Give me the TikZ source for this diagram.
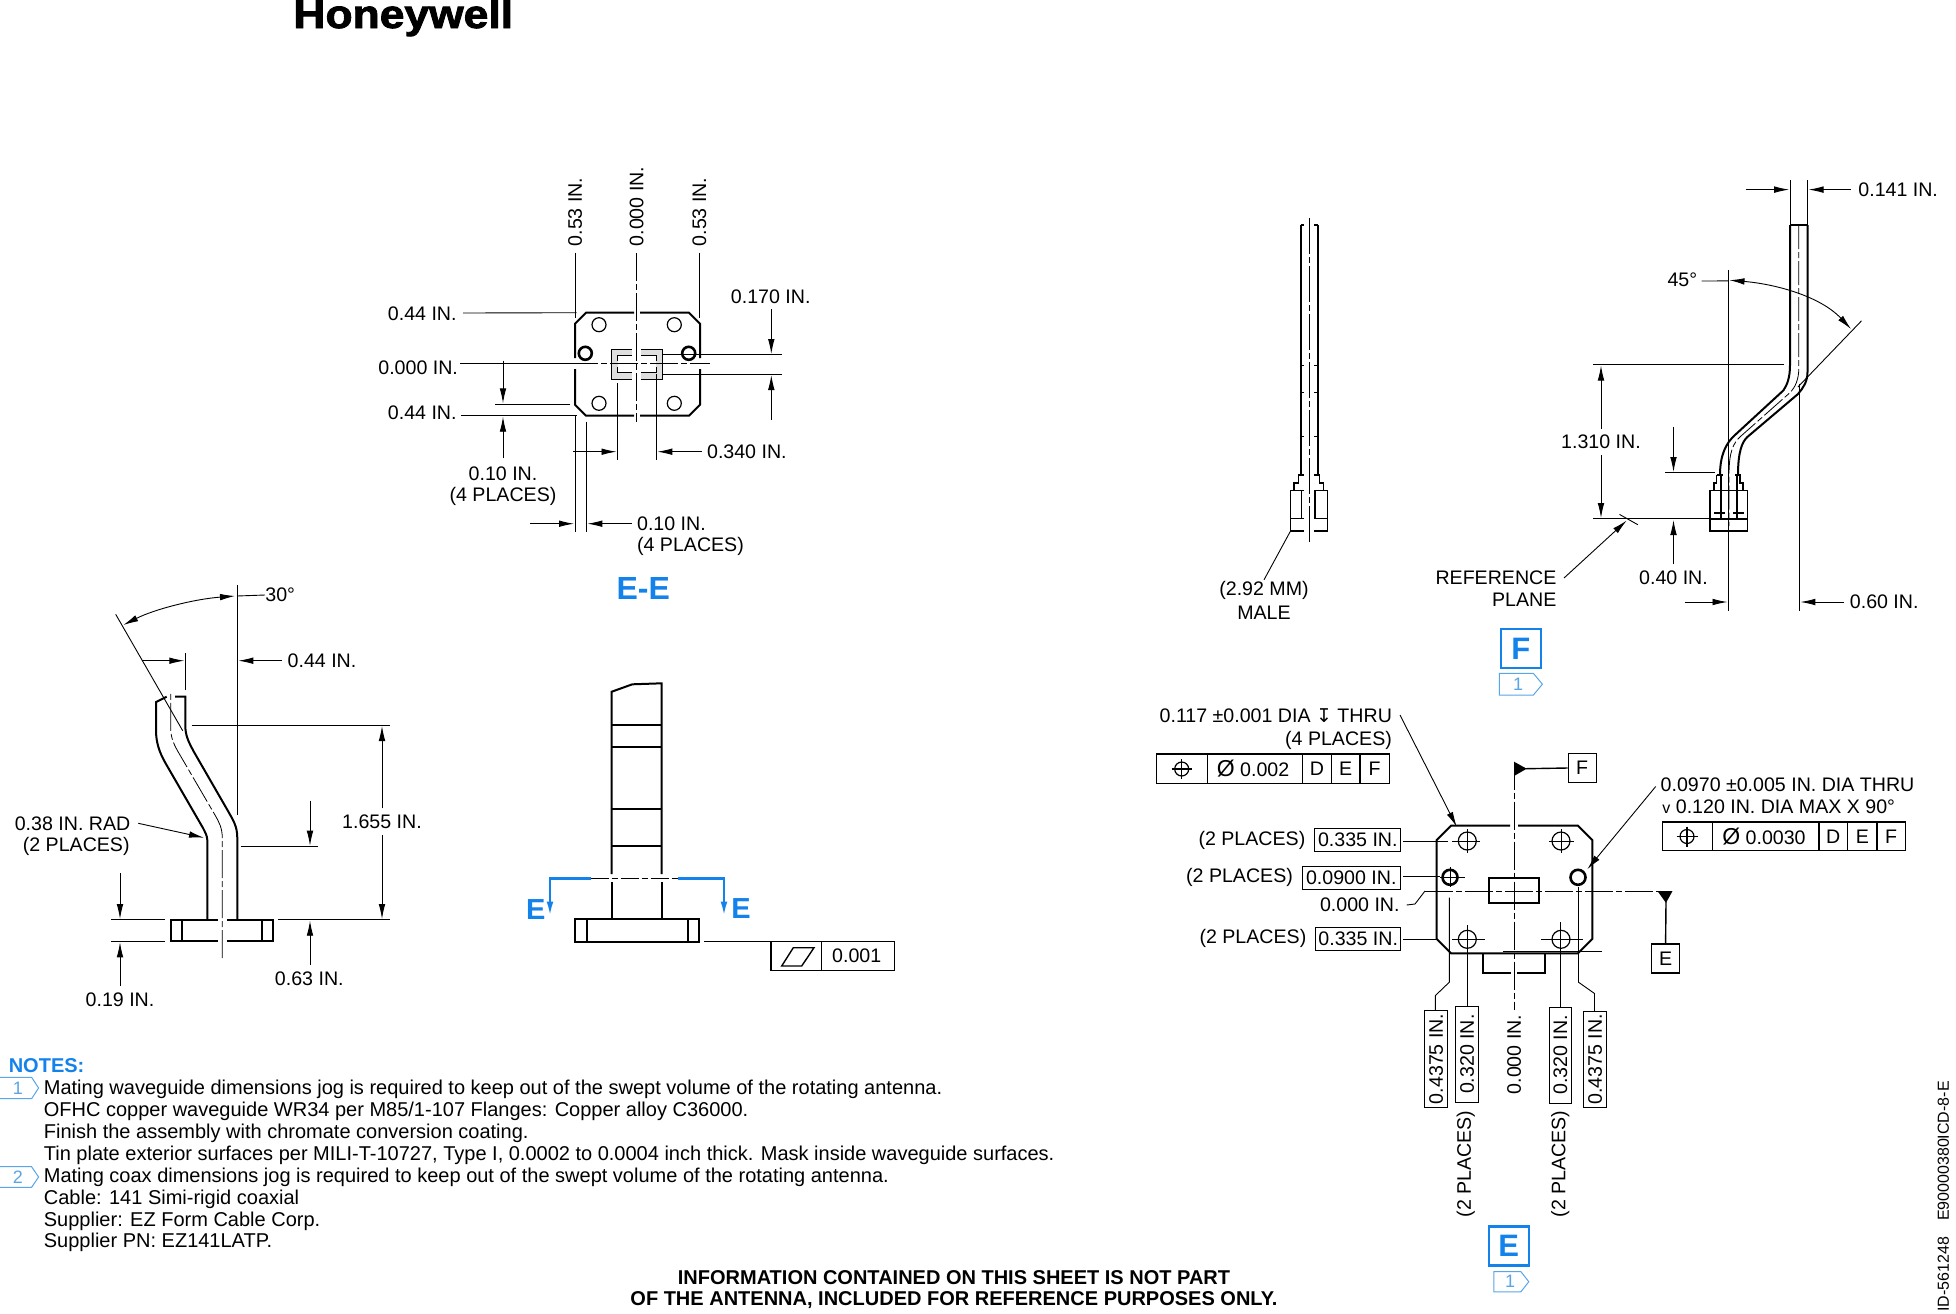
\documentclass[tikz,border=0pt]{standalone}
\usepackage{fontspec}
\setmainfont{Liberation Sans}
\newfontfamily\symfont{DejaVu Sans}
\newfontfamily\logofont[BoldFeatures={FakeBold=2}]{Liberation Sans}
\usetikzlibrary{arrows.meta}
\definecolor{hblue}{RGB}{20,130,235}
\definecolor{tagblue}{RGB}{90,165,230}

\tikzset{
  >={Latex[length=7.5pt,width=3.3pt]},
  part/.style={line width=1pt},
  dim/.style={line width=0.45pt},
  frame/.style={line width=0.7pt},
  cline/.style={line width=0.4pt,dash pattern=on 14pt off 1.5pt on 3pt off 1.5pt},
  lbl/.style={font=\fontsize{9.8}{11}\selectfont,inner sep=0pt},
  boxlbl/.style={lbl,draw,line width=0.5pt,minimum height=11.3pt},
  datum/.style={lbl,draw,line width=0.7pt,minimum width=14pt,minimum height=14.5pt},
  note/.style={font=\fontsize{10}{11}\selectfont,inner sep=0pt,anchor=west},
  bold/.style={font=\fontsize{10}{11}\selectfont\bfseries,inner sep=0pt},
  viewbox/.style={draw=hblue,text=hblue,line width=1.3pt,font=\fontsize{15.5}{16}\selectfont\bfseries,minimum width=20pt,minimum height=19.5pt,inner sep=0pt},
  viewlbl/.style={text=hblue,inner sep=0pt,font=\fontsize{14.5}{16}\selectfont\bfseries},
  tagflag/.style={draw=tagblue,line width=0.5pt,fill=white},
  taglbl/.style={text=tagblue,inner sep=0pt,font=\fontsize{9}{10}\selectfont},
  hole/.style={circle,draw,line width=0.6pt,minimum size=7pt,inner sep=0pt},
  thickhole/.style={circle,draw,line width=1.3pt,minimum size=6.5pt,inner sep=0pt}
}

\begin{document}
\begin{tikzpicture}[x=0.5pt,y=-0.5pt]
\useasboundingbox (0,0) rectangle (1956,1313);

\node[inner sep=0pt,anchor=base west,xscale=1.11,font=\fontsize{20}{20}\logofont\bfseries] (logo) at (293,28) {Honeywell};

% view E-E
\draw[part] (634,312.7) -- (586,312.7) -- (575,323.7) -- (575,358);
\draw[part] (640,312.7) -- (689,312.7) -- (700,323.7) -- (700,358);
\draw[part] (634,415.7) -- (586,415.7) -- (575,404.7) -- (575,369);
\draw[part] (640,415.7) -- (689,415.7) -- (700,404.7) -- (700,369);
\node[hole] (a1) at (599,324.7) {};
\node[hole] (a2) at (674.3,324.7) {};
\node[hole] (a3) at (599,403.3) {};
\node[hole] (a4) at (674.3,403.3) {};
\node[thickhole] (a5) at (585.3,353.3) {};
\node[thickhole] (a6) at (688.7,353.3) {};
\fill[gray!25] (611.7,349.3) rectangle (632,355.7);
\fill[gray!25] (641,349.3) rectangle (662.3,355.7);
\fill[gray!25] (611.7,372.7) rectangle (632,379.3);
\fill[gray!25] (641,372.7) rectangle (662.3,379.3);
\fill[gray!25] (611.7,349.3) rectangle (617.7,379.3);
\fill[gray!25] (656.3,349.3) rectangle (662.3,379.3);
\draw[frame] (632,349.3) -- (611.7,349.3) -- (611.7,379.3) -- (632,379.3);
\draw[frame] (641,349.3) -- (662.3,349.3) -- (662.3,379.3) -- (641,379.3);
\draw[dim] (632,355.7) -- (617.7,355.7) -- (617.7,361);
\draw[dim] (632,372.7) -- (617.7,372.7) -- (617.7,367);
\draw[dim] (641,355.7) -- (656.3,355.7) -- (656.3,361);
\draw[dim] (641,372.7) -- (656.3,372.7) -- (656.3,367);
\draw[cline] (636.7,253) -- (636.7,421.7);
\draw[cline] (570,363.7) -- (710,363.7);
\draw[dim] (575,252.7) -- (575,318);
\draw[dim] (699.3,252.7) -- (699.3,318);
\node[lbl,rotate=90,anchor=west] (l1) at (575,246.7) {0.53 IN.};
\node[lbl,rotate=90,anchor=west] (l2) at (636.7,246.7) {0.000 IN.};
\node[lbl,rotate=90,anchor=west] (l3) at (699.3,246.7) {0.53 IN.};
\node[lbl,anchor=east] (l4) at (457,314) {0.44 IN.};
\node[lbl,anchor=east] (l5) at (458.3,368) {0.000 IN.};
\node[lbl,anchor=east] (l6) at (457,413) {0.44 IN.};
\draw[dim] (l4.east) ++(6,-1) -- (576.7,312.7);
\draw[dim] (460,363.7) -- (570,363.7);
\draw[dim] (461,415.7) -- (576.7,415.7);
\draw[dim] (495,404) -- (570,404);
\draw[dim,->] (503,360.7) -- (503,403.3);
\draw[dim,->] (503,458.3) -- (503,416.7);
\node[lbl] (l7) at (503,474) {0.10 IN.};
\node[lbl] (l8) at (503,496) {(4 PLACES)};
\node[lbl] (l9) at (770.7,296.7) {0.170 IN.};
\draw[dim,->] (771.3,309.3) -- (771.3,354);
\draw[dim] (663,354) -- (781.7,354);
\draw[dim] (663,374) -- (781.7,374);
\draw[dim,->] (771.3,420) -- (771.3,375);
\draw[dim] (617.3,383) -- (617.3,460);
\draw[dim] (656.3,374) -- (656.3,460);
\draw[dim,->] (573.3,451.7) -- (616.5,451.7);
\draw[dim,->] (701.7,451.7) -- (657.3,451.7);
\node[lbl,anchor=west] (l10) at (706.7,451.7) {0.340 IN.};
\draw[dim] (575,415.7) -- (575,531.7);
\draw[dim] (586.3,421.7) -- (586.3,531.7);
\draw[dim,->] (530,523.7) -- (574,523.7);
\draw[dim,->] (631.7,523.7) -- (587.3,523.7);
\node[lbl,anchor=west] (l11) at (636.7,523.7) {0.10 IN.};
\node[lbl,anchor=west] (l12) at (636.7,546) {(4 PLACES)};
\node[viewlbl,font=\fontsize{16}{16}\selectfont\bfseries] (EE) at (643.3,588.3) {E-E};

% side view with the bend
\draw[part] (237.3,919.7) -- (237.3,838) .. controls (237.3,826) and (233,820) .. (228,811) -- (194,752) .. controls (188,741) and (185.3,735) .. (185.3,725) -- (185.3,696.7) -- (175,696.7);
\draw[part] (207.3,919.7) -- (207.3,840) .. controls (207.3,836) and (205,832) .. (203,828) -- (166,764) .. controls (159,752) and (156,742) .. (156,730) -- (156,702) -- (166.7,696.7);
\draw[cline] (222.3,958) -- (222.3,838) .. controls (222.3,828) and (219,822) .. (215,815) -- (180,755) .. controls (174,745) and (170.7,738) .. (170.7,728) -- (170.7,691.7);
\draw[part] (218,919.7) -- (170.7,919.7) -- (170.7,941.3) -- (218,941.3);
\draw[part] (227,919.7) -- (273.3,919.7) -- (273.3,941.3) -- (227,941.3);
\draw[part] (182.3,919.7) -- (182.3,941.3);
\draw[part] (262.3,919.7) -- (262.3,941.3);
\draw[dim] (115.7,614.3) -- (182.7,730.7);
\draw[dim] (237,585) -- (237,815);
\draw[dim,<->] (123.3,625) .. controls (155,609) and (195,599) .. (235,596);
\node[lbl,anchor=west] (b1) at (265,595) {30°};
\draw[dim] (237,596) -- (b1.west);
\draw[dim,->] (141.7,660.7) -- (184.3,660.7);
\draw[dim] (185,653) -- (185,690);
\draw[dim,->] (281.7,660.7) -- (238.3,660.7);
\node[lbl,anchor=west] (b2) at (287.3,661) {0.44 IN.};
\draw[dim] (191.7,725.3) -- (390,725.3);
\node[lbl] (b3) at (382,821.7) {1.655 IN.};
\draw[dim,->,shorten <=3pt] (b3.north) -- (382,726);
\draw[dim,->,shorten <=3pt] (b3.south) -- (382,919);
\draw[dim] (240.7,846.3) -- (318.3,846.3);
\draw[dim,->] (310,800.7) -- (310,845.7);
\draw[dim] (278.3,919.7) -- (390,919.7);
\draw[dim,->] (310,965) -- (310,920.7);
\node[lbl] (b4) at (309.3,978.3) {0.63 IN.};
\draw[dim] (111,919.7) -- (165,919.7);
\draw[dim] (111,941.3) -- (165,941.3);
\draw[dim,->] (120,873.3) -- (120,919);
\draw[dim,->] (120,986) -- (120,942.3);
\node[lbl] (b5) at (120,1000) {0.19 IN.};
\node[lbl,anchor=east] (b6) at (130.7,823.3) {0.38 IN. RAD};
\node[lbl,anchor=east] (b7) at (130,846) {(2 PLACES)};
\draw[dim,->] (138.3,823.3) -- (204,837.7);

% front view with the section line
\draw[part] (611.7,874) -- (611.7,691.7) -- (632.3,684.3) -- (661.7,683.3) -- (661.7,874);
\draw[part] (611.7,882) -- (611.7,919.3);
\draw[part] (661.7,882) -- (661.7,919.3);
\draw[part] (611.7,725.3) -- (661.7,725.3);
\draw[part] (611.7,747.3) -- (661.7,747.3);
\draw[part] (611.7,808.7) -- (661.7,808.7);
\draw[part] (611.7,846) -- (661.7,846);
\draw[part] (575,919.3) rectangle (699.3,941.7);
\draw[part] (586.7,919.3) -- (586.7,941.7);
\draw[part] (687.7,919.3) -- (687.7,941.7);
\draw[line width=1.2pt,hblue,->] (590.7,878.3) -- (550,878.3) -- (550,916.7);
\draw[line width=1.2pt,hblue,->] (678.3,878.3) -- (724,878.3) -- (724,916.7);
\draw[cline,dash pattern=on 9pt off 1.5pt on 3pt off 1.5pt] (590.7,878.3) -- (678.3,878.3);
\node[viewlbl] (E1) at (535.7,909.3) {E};
\node[viewlbl] (E2) at (741,908.3) {E};
\draw[frame] (771,941.7) rectangle (894.3,970.7);
\draw[frame] (821.3,941.7) -- (821.3,970.7);
\draw[frame] (781.7,966) -- (793.3,947.7) -- (814,947.7) -- (801.7,966) -- cycle;
\node[lbl] (c1) at (856.7,956) {0.001};
\draw[dim] (704,941.7) -- (771,941.7);

% cable, front
\draw[part] (1300.7,225) -- (1300.7,475);
\draw[part] (1317.6,225) -- (1317.6,475);
\draw[part] (1300.7,225) -- (1304,225);
\draw[part] (1314,225) -- (1317.6,225);
\draw[cline,dash pattern=on 18pt off 1.5pt on 3pt off 1.5pt] (1309,218) -- (1309,543);
\draw[dim] (1300.7,365) -- (1304,365);
\draw[dim] (1314,365) -- (1317.6,365);
\draw[dim] (1300.7,392) -- (1304,392);
\draw[dim] (1314,392) -- (1317.6,392);
\draw[dim] (1300.7,436) -- (1304,436);
\draw[dim] (1314,436) -- (1317.6,436);
\draw[frame] (1304,475) -- (1298.4,475) -- (1298.4,483) -- (1294,483) -- (1294,490.7) -- (1304,490.7);
\draw[frame] (1314,475) -- (1319.6,475) -- (1319.6,483) -- (1323.5,483) -- (1323.5,490.7) -- (1314,490.7);
\draw[frame] (1304,490.7) -- (1290.2,490.7) -- (1290.2,531) -- (1304,531);
\draw[frame] (1314,490.7) -- (1327.3,490.7) -- (1327.3,531) -- (1314,531);
\draw[frame] (1290.2,518.3) -- (1304,518.3);
\draw[frame] (1314,518.3) -- (1327.3,518.3);
\draw[frame] (1301.7,490.7) -- (1301.7,518.3);
\draw[frame] (1315,490.7) -- (1315,518.3);
\draw[dim] (1290.2,531.6) -- (1264,579.8);
\node[lbl] (d1) at (1264,590.8) {(2.92 MM)};
\node[lbl] (d2) at (1264,612.8) {MALE};

% cable, side
\draw[part] (1790,225) -- (1790,365) .. controls (1790,378) and (1787,385) .. (1783.4,390.4) -- (1735,435) .. controls (1726,443) and (1720,455) .. (1720,475);
\draw[part] (1807.5,225) -- (1807.5,372) .. controls (1807.5,382) and (1803,388) .. (1798,394) -- (1747.3,437) .. controls (1742,442) and (1738,452) .. (1738,475);
\draw[part] (1790,225) -- (1807.5,225);
\draw[cline,dash pattern=on 12pt off 1.5pt on 3pt off 1.5pt] (1798.8,225) -- (1798.8,368) .. controls (1798.8,380) and (1795,387) .. (1790.7,392) -- (1741,436) .. controls (1733,443) and (1729,452) .. (1729,475) -- (1729,526);
\draw[frame] (1716.7,475) -- (1716.7,483) -- (1714,483) -- (1714,490.7);
\draw[frame] (1716.7,475) -- (1723,475);
\draw[frame] (1735,475) -- (1740,475) -- (1740,483) -- (1743,483) -- (1743,490.7);
\draw[frame] (1710,490.7) rectangle (1747.3,531);
\draw[frame] (1710,519) -- (1747.3,519);
\draw[part] (1720.7,475) -- (1720.7,519);
\draw[part] (1736.7,475) -- (1736.7,519);
\draw[part] (1714,513) -- (1725,513);
\draw[part] (1733,513) -- (1744,513);
\draw[dim] (1790.2,180.3) -- (1790.2,225);
\draw[dim] (1807.5,180.3) -- (1807.5,225);
\draw[dim,->] (1745.8,189.6) -- (1789.2,189.6);
\draw[dim,->] (1851,189.6) -- (1808.5,189.6);
\node[lbl,anchor=west] (e1) at (1858,189.6) {0.141 IN.};
\node[lbl,anchor=east] (e2) at (1697.6,280) {45°};
\draw[dim] (e2.east) ++(4,1) -- (1728,280.9);
\draw[dim] (1728.4,269.9) -- (1728.4,610.8);
\draw[dim,<->] (1729.5,280.2) .. controls (1775,284) and (1820,296) .. (1851,329);
\draw[dim] (1861.5,320.8) -- (1797.9,387);
\draw[dim] (1593,364.9) -- (1784.4,364.9);
\draw[dim] (1593,518.8) -- (1710,518.8);
\node[lbl] (e3) at (1601,442) {1.310 IN.};
\draw[dim,->,shorten <=3pt] (e3.north) -- (1601,365.5);
\draw[dim,->,shorten <=3pt] (e3.south) -- (1601,518);
\draw[dim] (1665.3,472.7) -- (1715,472.7);
\draw[dim,->] (1673.5,426.5) -- (1673.5,472);
\draw[dim,->] (1673.5,564.3) -- (1673.5,520);
\node[lbl] (e4) at (1673.5,577.4) {0.40 IN.};
\draw[dim] (1619.5,514.4) -- (1637.8,524.7);
\node[lbl,anchor=east] (e5) at (1556.8,577.4) {REFERENCE};
\node[lbl,anchor=east] (e6) at (1556.8,599.4) {PLANE};
\draw[dim,->] (1564,578) -- (1626.7,520.5);
\draw[dim] (1799.3,383.5) -- (1799.3,610.8);
\draw[dim,->] (1684.6,602) -- (1727.5,602);
\draw[dim,->] (1843.7,602) -- (1800.3,602);
\node[lbl,anchor=west] (e7) at (1849.5,602) {0.60 IN.};
\node[viewbox] (F) at (1520.8,648.6) {F};
\draw[tagflag] (1499.4,673.4) -- ++(34,0) -- ++(9,10.8) -- ++(-9,10.8) -- ++(-34,0) -- cycle;
\node[taglbl] (t1) at (1518,684.2) {1};

% waveguide end
\draw[part] (1510,825.7) -- (1451,825.7) -- (1436.7,840) -- (1436.7,939) -- (1451,953.3) -- (1578,953.3) -- (1592.3,939) -- (1592.3,840) -- (1578,825.7) -- (1518,825.7);
\node[hole,minimum size=9pt] (h1) at (1467.3,841) {};
\node[hole,minimum size=9pt] (h2) at (1561,841) {};
\node[hole,minimum size=9pt] (h3) at (1467.3,939.3) {};
\node[hole,minimum size=9pt] (h4) at (1561,939.3) {};
\node[thickhole,minimum size=7.5pt] (h5) at (1450,877.3) {};
\node[thickhole,minimum size=7.5pt] (h6) at (1578,877.3) {};
\draw[dim] (1452,841) -- (1480,841);
\draw[dim] (1467.3,829) -- (1467.3,853);
\draw[dim] (1549,841) -- (1574,841);
\draw[dim] (1561,829) -- (1561,853);
\draw[dim] (1452,939.3) -- (1485,939.3);
\draw[dim] (1467.3,925) -- (1467.3,1006.2);
\draw[dim] (1541,939.3) -- (1583,939.3);
\draw[dim] (1560.7,922) -- (1560.7,1007);
\draw[dim] (1440,877.3) -- (1465,877.3);
\draw[dim] (1450,867) -- (1450,887);
\draw[part] (1489.3,877.7) rectangle (1539.3,902.7);
\draw[part] (1482.7,953.3) -- (1482.7,972.7) -- (1511,972.7);
\draw[part] (1517,972.7) -- (1545.3,972.7) -- (1545.3,953.3);
\draw[dim] (1503,951.7) -- (1601.7,951.7);
\draw[cline] (1514,761.7) -- (1514,1010.4);
\draw[cline] (1425,891) -- (1657.6,891);
\draw[dim] (1449.3,897.6) -- (1449.3,982.2) -- (1435.3,995.6) -- (1435.3,1010.4);
\draw[dim] (1578.5,887) -- (1578.5,982.2) -- (1594.5,993.5) -- (1594.5,1011);
\node[lbl,anchor=base east] (g1) at (1392.3,722) {0.117 ±0.001 DIA {\symfont\fontsize{9.5}{9}\selectfont ↧} THRU};
\node[lbl,anchor=base east] (g2) at (1392.3,745) {(4 PLACES)};
\draw[dim,->] (1400,715) -- (1456.7,826.7);
\draw[frame] (1156.7,754) rectangle (1389.3,783.3);
\draw[frame] (1207.3,754) -- (1207.3,783.3);
\draw[frame] (1302.7,754) -- (1302.7,783.3);
\draw[frame] (1331.3,754) -- (1331.3,783.3);
\draw[frame] (1360,754) -- (1360,783.3);
\node[hole] (p1) at (1181.7,769) {};
\draw[frame] (1171.5,769) -- (1192,769);
\draw[frame] (1181.7,759) -- (1181.7,779);
\node[lbl] (p2) at (1253,769) {{\fontsize{11.5}{12}\selectfont Ø} 0.002};
\node[lbl] (p3) at (1317,769) {D};
\node[lbl] (p4) at (1345.7,769) {E};
\node[lbl] (p5) at (1374.7,769) {F};
\fill (1514,761.7) -- (1514,776) -- (1526.7,768.7) -- cycle;
\node[datum] (dF) at (1582.2,768) {F};
\draw[frame] (1526,768.7) -- (dF.west);
\node[lbl,anchor=east] (i1) at (1305.7,840) {(2 PLACES)};
\node[boxlbl,minimum width=42.9pt] (i2) at (1357.8,840) {0.335 IN.};
\draw[dim] (1403.3,841) -- (1448.3,841);
\node[lbl,anchor=east] (i3) at (1293.3,877.3) {(2 PLACES)};
\node[boxlbl,minimum width=49.3pt] (i4) at (1351.3,878.2) {0.0900 IN.};
\draw[dim] (1403.3,876.7) -- (1440,876.7);
\node[lbl,anchor=east] (i5) at (1400,905) {0.000 IN.};
\draw[dim] (1406.7,905) -- (1415,904) -- (1425,891);
\node[lbl,anchor=east] (i6) at (1306.7,938.3) {(2 PLACES)};
\node[boxlbl,minimum width=42.5pt] (i7) at (1358.2,939.2) {0.335 IN.};
\draw[dim] (1403.3,939.3) -- (1436.7,939.3);
\fill (1657.6,891.2) -- (1672.4,891.2) -- (1666,902.9) -- cycle;
\node[datum] (dE) at (1665.6,958.3) {E};
\draw[frame] (1666,902) -- (dE.north);
\node[lbl,anchor=base west] (j1) at (1660.3,791) {0.0970 ±0.005 IN. DIA THRU};
\node[lbl,anchor=base west] (j2) at (1662,813) {{\fontsize{8}{9}\selectfont v} 0.120 IN. DIA MAX X 90°};
\draw[dim,->] (1655.7,786.5) -- (1587.3,869.3);
\draw[frame] (1662.2,822) rectangle (1905.4,850.7);
\draw[frame] (1712.7,822) -- (1712.7,850.7);
\draw[frame] (1818.8,822) -- (1818.8,850.7);
\draw[frame] (1847.6,822) -- (1847.6,850.7);
\draw[frame] (1877,822) -- (1877,850.7);
\node[hole] (q1) at (1687,836.5) {};
\draw[frame] (1676.5,836.5) -- (1697.5,836.5);
\draw[frame] (1687,826.5) -- (1687,846.5);
\node[lbl] (q2) at (1764,836.5) {{\fontsize{11.5}{12}\selectfont Ø} 0.0030};
\node[lbl] (q3) at (1833.2,836.5) {D};
\node[lbl] (q4) at (1862.3,836.5) {E};
\node[lbl] (q5) at (1891.2,836.5) {F};
\node[boxlbl,rotate=90,minimum width=48.5pt] (k1) at (1436,1058.9) {0.4375 IN.};
\node[boxlbl,rotate=90,minimum width=48pt] (k2) at (1467,1054.2) {0.320 IN.};
\node[lbl,rotate=90] (k3) at (1514,1054.5) {0.000 IN.};
\node[boxlbl,rotate=90,minimum width=48pt] (k4) at (1560.3,1055) {0.320 IN.};
\node[boxlbl,rotate=90,minimum width=48.2pt] (k5) at (1595.2,1059.2) {0.4375 IN.};
\node[lbl,rotate=90] (k6) at (1465.7,1164) {(2 PLACES)};
\node[lbl,rotate=90] (k7) at (1560.3,1164) {(2 PLACES)};
\node[viewbox] (E) at (1508.8,1246.2) {E};
\draw[tagflag] (1493.8,1271.5) -- ++(27,0) -- ++(8,10.2) -- ++(-8,10.2) -- ++(-27,0) -- cycle;
\node[taglbl] (t2) at (1510,1281.7) {1};

% notes
\node[inner sep=0pt,anchor=west,text=hblue,font=\fontsize{10}{11}\selectfont\bfseries] (N0) at (8.4,1066) {NOTES:};
\draw[tagflag] (0,1077.3) -- (31.6,1077.3) -- (38.6,1088) -- (31.6,1098.7) -- (0,1098.7);
\node[taglbl] (t3) at (18,1088) {1};
\node[note] (N1) at (43.5,1089.3) {Mating waveguide dimensions jog is required to keep out of the swept volume of the rotating antenna.};
\node[note] (N2) at (43.5,1111) {OFHC copper waveguide WR34 per M85/1-107 Flanges: Copper alloy C36000.};
\node[note] (N3) at (43.5,1133) {Finish the assembly with chromate conversion coating.};
\node[note] (N4) at (43.5,1155) {Tin plate exterior surfaces per MILI-T-10727, Type I, 0.0002 to 0.0004 inch thick. Mask inside waveguide surfaces.};
\draw[tagflag] (0,1166.7) -- (31.6,1166.7) -- (38.6,1177) -- (31.6,1187.3) -- (0,1187.3);
\node[taglbl] (t4) at (18,1177) {2};
\node[note] (N5) at (43.5,1177) {Mating coax dimensions jog is required to keep out of the swept volume of the rotating antenna.};
\node[note] (N6) at (43.5,1199) {Cable: 141 Simi-rigid coaxial};
\node[note] (N7) at (43.5,1221) {Supplier: EZ Form Cable Corp.};
\node[note] (N8) at (43.5,1242.7) {Supplier PN: EZ141LATP.};
\node[bold] (m1) at (954,1277.4) {INFORMATION CONTAINED ON THIS SHEET IS NOT PART};
\node[bold] (m2) at (954,1299.8) {OF THE ANTENNA, INCLUDED FOR REFERENCE PURPOSES ONLY.};
\node[inner sep=0pt,rotate=90,anchor=west,font=\fontsize{8}{9}\selectfont] (s1) at (1943.4,1312) {ID-561248\hspace{8pt}E90000380ICD-8-E};
\end{tikzpicture}
\end{document}
